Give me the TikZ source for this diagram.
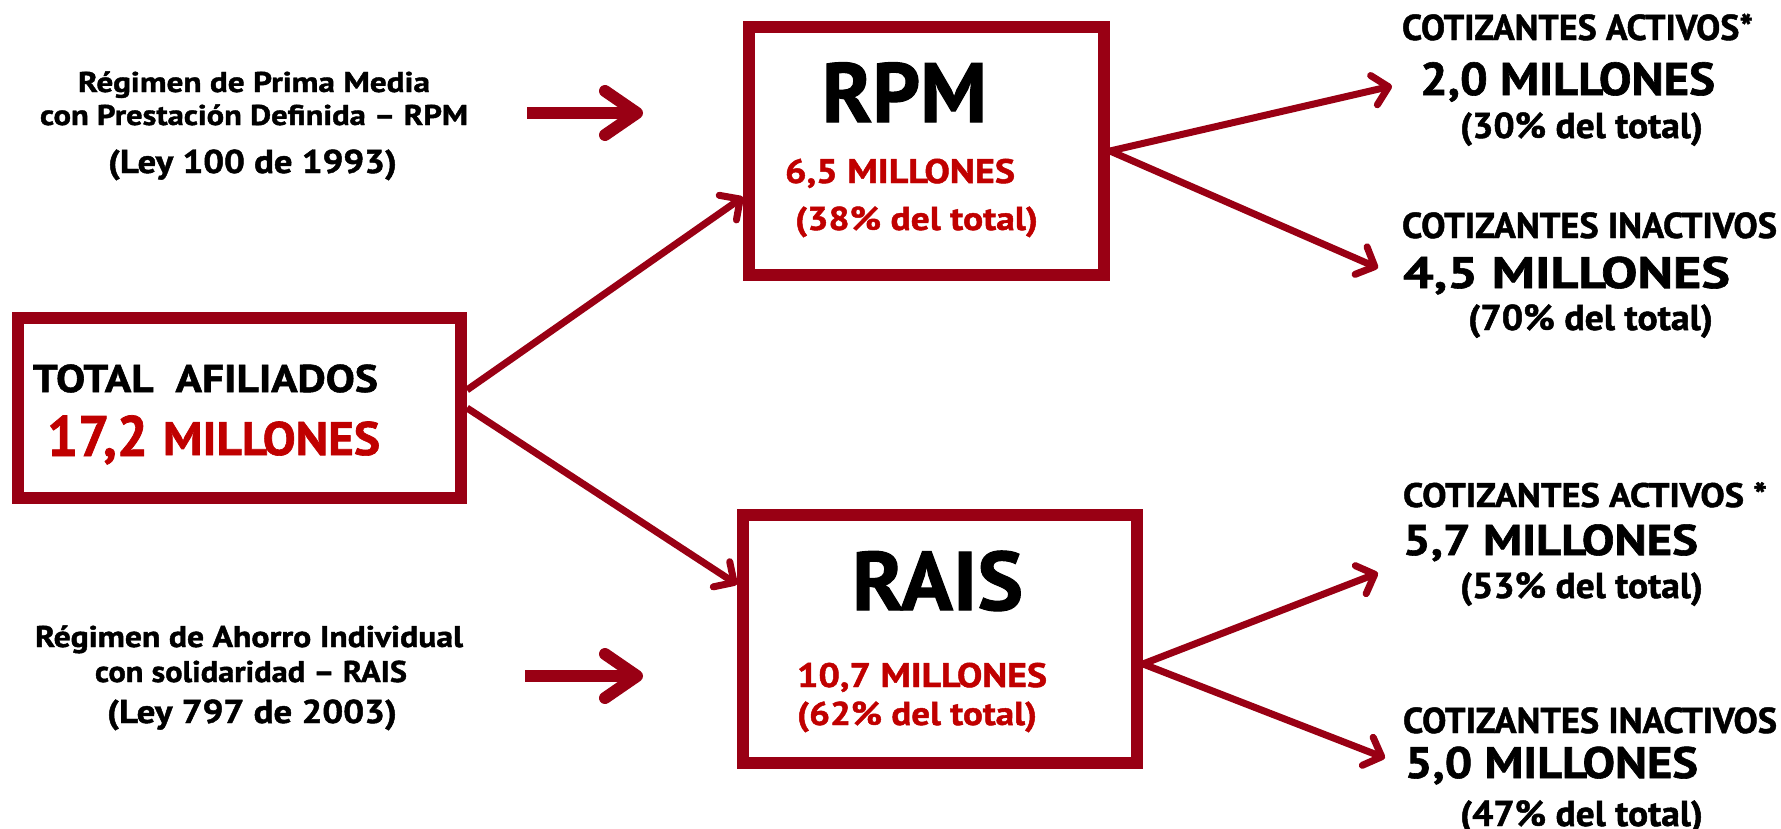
\documentclass[tikz,border=0pt]{standalone}
\usepackage{fontspec}
\setmainfont{PT Sans}[BoldFeatures={FakeBold=1.3}]
\usepackage{graphicx}
\usetikzlibrary{arrows.meta,calc}
\definecolor{bord}{RGB}{153,0,20}
\definecolor{redtxt}{RGB}{192,0,0}
\newsavebox\fitbox
\newcommand\fitw[3]{\sbox\fitbox{\fontsize{#2pt}{#2pt}\selectfont\bfseries #3}\pgfmathsetmacro\fitratio{#1/\the\wd\fitbox}\scalebox{\fitratio}[1]{\usebox\fitbox}}
\begin{document}
\begin{tikzpicture}[x=1pt,y=-1pt,
  box/.style={draw=bord, line width=12pt, fill=white, rectangle, inner sep=0pt},
  txt/.style={anchor=base west, inner sep=0pt, outer sep=0pt},
  rtxt/.style={txt, text=redtxt},
  conn/.style={draw=bord, line width=7pt, -{Straight Barb[length=15pt, width=30pt, round]}},
  fat/.style={draw=bord, line width=12pt, -{Straight Barb[length=32pt, width=44pt, round]}}]
\fill[white] (0,0) rectangle (1781,828);
\useasboundingbox (0,0) rectangle (1781,828);

% boxes
\node[box, minimum width=443pt, minimum height=180pt] (total) at (239.5,408) {};
\node[box, minimum width=355pt, minimum height=248pt] (rpm) at (926.5,151) {};
\node[box, minimum width=394pt, minimum height=248pt] (rais) at (940,639) {};

% free end points
\coordinate (la1) at (527,113);
\coordinate (la2) at (643,113);
\coordinate (lb1) at (525,676);
\coordinate (lb2) at (643,676);
\coordinate (p1) at (1392,86);
\coordinate (p2) at (1378,268);
\coordinate (q1) at (1378,573);
\coordinate (q2) at (1385,758);

% connectors
\draw[fat] (la1) -- (la2);
\draw[fat] (lb1) -- (lb2);
\draw[conn] ($(total.north east)!0.406!(total.south east)$) -- ($(rpm.north west)!0.677!(rpm.south west)$);
\draw[conn] (total.east) -- ($(rais.north west)!0.29!(rais.south west)$);
\draw[conn] (rpm.east) -- (p1);
\draw[conn] (rpm.east) -- (p2);
\draw[conn] ($(rais.north east)!0.596!(rais.south east)$) -- (q1);
\draw[conn] ($(rais.north east)!0.596!(rais.south east)$) -- (q2);

% left texts
\node[txt] (t1) at (78,92) {\fitw{352}{28.6}{Régimen de Prima Media}};
\node[txt] (t2) at (40,125) {\fitw{428}{28.6}{con Prestación Definida – RPM}};
\node[txt] (t3) at (108,173) {\fitw{289}{33}{(Ley 100 de 1993)}};
\node[txt] (b1) at (35,647) {\fitw{428}{30}{Régimen de Ahorro Individual}};
\node[txt] (b2) at (95,682) {\fitw{312}{30}{con solidaridad – RAIS}};
\node[txt] (b3) at (107,723) {\fitw{290}{33}{(Ley 797 de 2003)}};

% total box texts
\node[txt] (a1) at (33,392) {\fitw{345}{38.6}{TOTAL~~AFILIADOS}};
\node[rtxt] (a2) at (47,456) {\fitw{101}{57}{17,2}};
\node[rtxt] (a3) at (163,455) {\fitw{217}{47}{MILLONES}};

% RPM box texts
\node[txt] (r1) at (822,122) {\fitw{165}{84}{RPM}};
\node[rtxt] (r2) at (785,183) {\fitw{230}{34}{6,5 MILLONES}};
\node[rtxt] (r3) at (795,230) {\fitw{243}{33}{(38\% del total)}};

% RAIS box texts
\node[txt] (s1) at (852,610) {\fitw{171}{83}{RAIS}};
\node[rtxt] (s2) at (797,687) {\fitw{250}{34}{10,7 MILLONES}};
\node[rtxt] (s3) at (797,725) {\fitw{240}{33}{(62\% del total)}};

% right texts
\node[txt] (c1) at (1402,40) {\fitw{351}{36}{COTIZANTES ACTIVOS*}};
\node[txt] (c2) at (1420,95) {\fitw{295}{46}{2,0 MILLONES}};
\node[txt] (c3) at (1460,138) {\fitw{243}{36}{(30\% del total)}};
\node[txt] (c4) at (1402,238) {\fitw{375}{36}{COTIZANTES INACTIVOS}};
\node[txt] (c5) at (1403,288) {\fitw{327}{44}{4,5 MILLONES}};
\node[txt] (c6) at (1468,330) {\fitw{245}{36}{(70\% del total)}};
\node[txt] (d1) at (1403,507) {\fitw{364}{34}{COTIZANTES ACTIVOS *}};
\node[txt] (d2) at (1403,555) {\fitw{295}{43}{5,7 MILLONES}};
\node[txt] (d3) at (1460,598) {\fitw{243}{36}{(53\% del total)}};
\node[txt] (d4) at (1403,733) {\fitw{374}{36}{COTIZANTES INACTIVOS}};
\node[txt] (d5) at (1405,778) {\fitw{293}{44}{5,0 MILLONES}};
\node[txt] (d6) at (1460,826) {\fitw{243}{36}{(47\% del total)}};
\end{tikzpicture}
\end{document}
